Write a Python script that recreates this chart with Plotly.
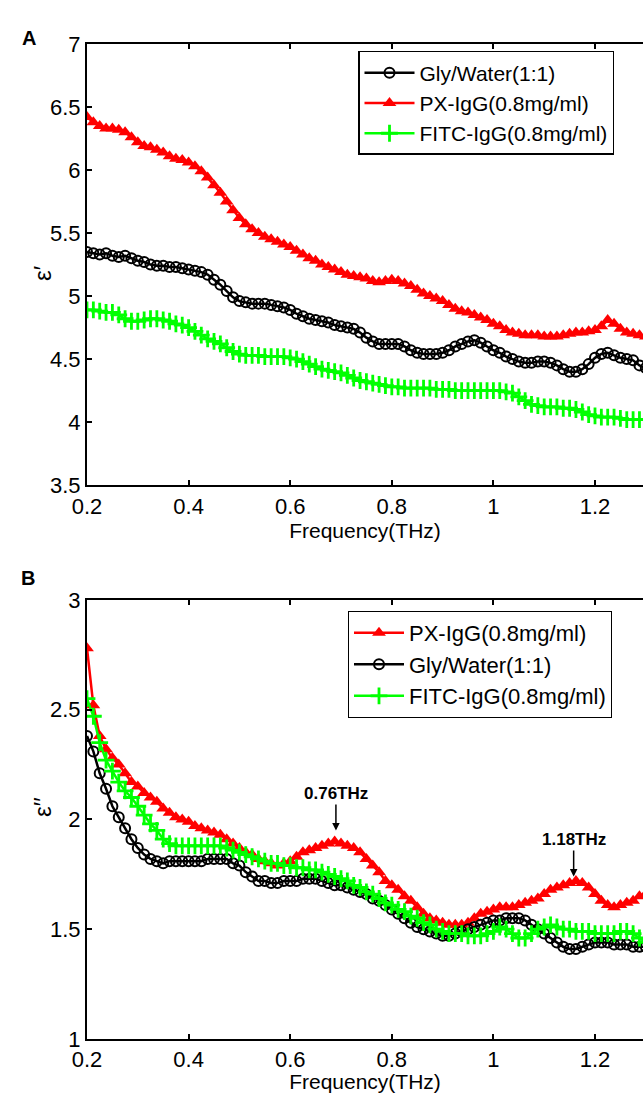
import plotly.graph_objects as go

freq = [0.2, 0.2125, 0.225, 0.2375, 0.25, 0.2625, 0.275, 0.2875,
        0.3, 0.3125, 0.325, 0.3375, 0.35, 0.3625, 0.375, 0.3875,
        0.4, 0.4125, 0.425, 0.4375, 0.45, 0.4625, 0.475, 0.4875,
        0.5, 0.5125, 0.525, 0.5375, 0.55, 0.5625, 0.575, 0.5875,
        0.6, 0.6125, 0.625, 0.6375, 0.65, 0.6625, 0.675, 0.6875,
        0.7, 0.7125, 0.725, 0.7375, 0.75, 0.7625, 0.775, 0.7875,
        0.8, 0.8125, 0.825, 0.8375, 0.85, 0.8625, 0.875, 0.8875,
        0.9, 0.9125, 0.925, 0.9375, 0.95, 0.9625, 0.975, 0.9875,
        1.0, 1.0125, 1.025, 1.0375, 1.05, 1.0625, 1.075, 1.0875,
        1.1, 1.1125, 1.125, 1.1375, 1.15, 1.1625, 1.175, 1.1875,
        1.2, 1.2125, 1.225, 1.2375, 1.25, 1.2625, 1.275, 1.2875,
        1.3]

# Panel A: real part eps'
gly_real = [5.35, 5.34, 5.33, 5.34, 5.32, 5.31, 5.32, 5.30,
            5.28, 5.27, 5.25, 5.24, 5.24, 5.23, 5.23, 5.22,
            5.21, 5.20, 5.19, 5.17, 5.13, 5.09, 5.04, 4.99,
            4.96, 4.95, 4.94, 4.94, 4.94, 4.93, 4.92, 4.91,
            4.89, 4.86, 4.84, 4.82, 4.81, 4.80, 4.79, 4.77,
            4.76, 4.75, 4.74, 4.71, 4.67, 4.64, 4.62, 4.62,
            4.62, 4.62, 4.60, 4.57, 4.55, 4.54, 4.54, 4.54,
            4.55, 4.57, 4.60, 4.62, 4.64, 4.65, 4.63, 4.60,
            4.57, 4.55, 4.52, 4.50, 4.48, 4.47, 4.47, 4.48,
            4.48, 4.47, 4.45, 4.42, 4.40, 4.40, 4.42, 4.46,
            4.51, 4.54, 4.55, 4.53, 4.51, 4.50, 4.49, 4.45,
            4.43]
px_real = [6.42, 6.38, 6.35, 6.33, 6.33, 6.32, 6.30, 6.26,
           6.22, 6.19, 6.18, 6.16, 6.14, 6.11, 6.09, 6.08,
           6.06, 6.03, 5.99, 5.94, 5.88, 5.82, 5.75, 5.68,
           5.62, 5.57, 5.53, 5.50, 5.47, 5.45, 5.43, 5.41,
           5.39, 5.36, 5.33, 5.30, 5.28, 5.25, 5.23, 5.21,
           5.19, 5.17, 5.16, 5.15, 5.14, 5.12, 5.11, 5.12,
           5.13, 5.12, 5.10, 5.08, 5.05, 5.02, 5.00, 4.98,
           4.96, 4.93, 4.90, 4.88, 4.87, 4.85, 4.83, 4.81,
           4.78, 4.76, 4.73, 4.71, 4.70, 4.69, 4.69, 4.69,
           4.68, 4.68, 4.68, 4.69, 4.70, 4.71, 4.71, 4.72,
           4.73, 4.76, 4.81, 4.78, 4.74, 4.71, 4.70, 4.69,
           4.68]
fitc_real = [4.89, 4.89, 4.88, 4.87, 4.87, 4.85, 4.82, 4.80,
             4.80, 4.81, 4.82, 4.82, 4.81, 4.80, 4.78, 4.77,
             4.75, 4.72, 4.69, 4.66, 4.64, 4.62, 4.59, 4.56,
             4.54, 4.53, 4.53, 4.53, 4.52, 4.52, 4.52, 4.52,
             4.51, 4.50, 4.48, 4.46, 4.44, 4.42, 4.41, 4.40,
             4.39, 4.37, 4.35, 4.33, 4.32, 4.31, 4.30, 4.29,
             4.28, 4.28, 4.27, 4.27, 4.27, 4.27, 4.27, 4.26,
             4.26, 4.26, 4.25, 4.25, 4.25, 4.25, 4.25, 4.25,
             4.25, 4.25, 4.24, 4.23, 4.20, 4.17, 4.14, 4.13,
             4.12, 4.12, 4.12, 4.11, 4.11, 4.10, 4.08, 4.06,
             4.05, 4.04, 4.04, 4.04, 4.03, 4.02, 4.02, 4.02,
             4.02]

# Panel B: imaginary part eps''
px_imag = [2.78, 2.52, 2.38, 2.32, 2.28, 2.25, 2.21, 2.17,
           2.15, 2.12, 2.10, 2.08, 2.05, 2.03, 2.01, 2.00,
           1.99, 1.97, 1.96, 1.95, 1.94, 1.93, 1.91, 1.89,
           1.87, 1.85, 1.84, 1.82, 1.81, 1.80, 1.79, 1.80,
           1.81, 1.83, 1.85, 1.86, 1.87, 1.88, 1.89, 1.90,
           1.89, 1.88, 1.87, 1.85, 1.82, 1.79, 1.76, 1.72,
           1.70, 1.68, 1.65, 1.63, 1.60, 1.57, 1.55, 1.54,
           1.53, 1.52, 1.52, 1.52, 1.53, 1.55, 1.57, 1.58,
           1.59, 1.60, 1.60, 1.60, 1.61, 1.62, 1.63, 1.64,
           1.66, 1.68, 1.69, 1.70, 1.71, 1.72, 1.71, 1.69,
           1.66, 1.63, 1.61, 1.60, 1.61, 1.62, 1.63, 1.65,
           1.66]
gly_imag = [2.38, 2.31, 2.21, 2.14, 2.06, 2.01, 1.96, 1.91,
            1.87, 1.84, 1.82, 1.81, 1.80, 1.81, 1.81, 1.81,
            1.81, 1.81, 1.81, 1.82, 1.82, 1.82, 1.82, 1.80,
            1.79, 1.76, 1.74, 1.72, 1.72, 1.71, 1.71, 1.72,
            1.72, 1.72, 1.73, 1.73, 1.73, 1.72, 1.71, 1.70,
            1.70, 1.69, 1.68, 1.67, 1.66, 1.64, 1.63, 1.61,
            1.59, 1.57, 1.55, 1.53, 1.51, 1.50, 1.49, 1.48,
            1.47, 1.47, 1.48, 1.49, 1.50, 1.51, 1.52, 1.53,
            1.54, 1.54, 1.55, 1.55, 1.55, 1.54, 1.52, 1.50,
            1.48, 1.46, 1.44, 1.42, 1.41, 1.41, 1.42, 1.43,
            1.44, 1.44, 1.44, 1.43, 1.43, 1.43, 1.42, 1.42,
            1.42]
fitc_imag = [2.55, 2.47, 2.35, 2.27, 2.22, 2.17, 2.13, 2.10,
             2.06, 2.02, 1.98, 1.95, 1.91, 1.89, 1.88, 1.88,
             1.88, 1.88, 1.88, 1.88, 1.88, 1.88, 1.87, 1.86,
             1.85, 1.84, 1.83, 1.82, 1.81, 1.80, 1.80, 1.79,
             1.79, 1.78, 1.78, 1.77, 1.77, 1.76, 1.75, 1.74,
             1.73, 1.72, 1.70, 1.69, 1.67, 1.66, 1.64, 1.62,
             1.61, 1.59, 1.58, 1.56, 1.55, 1.53, 1.52, 1.50,
             1.49, 1.48, 1.48, 1.48, 1.47, 1.47, 1.47, 1.48,
             1.49, 1.51, 1.50, 1.48, 1.46, 1.46, 1.48, 1.50,
             1.51, 1.52, 1.51, 1.50, 1.50, 1.49, 1.49, 1.49,
             1.48, 1.48, 1.48, 1.48, 1.49, 1.49, 1.48, 1.46,
             1.44]

names = {"gly": "Gly/Water(1:1)", "px": "PX-IgG(0.8mg/ml)", "fitc": "FITC-IgG(0.8mg/ml)"}
peak_labels = ["0.76THz", "1.18THz"]
peak_x = [0.69, 1.158]
peak_y = [1.95, 1.74]

FONT = "Liberation Sans, Arial, Helvetica, sans-serif"

styles = {
    "gly": dict(line=dict(color="black", width=2.5),
                marker=dict(symbol="circle-open", size=10, color="black",
                            line=dict(color="black", width=2))),
    "px": dict(line=dict(color="#ff0000", width=2.5),
               marker=dict(symbol="triangle-up", size=12, color="#ff0000",
                           line=dict(color="#ff0000", width=0))),
    "fitc": dict(line=dict(color="#00ff00", width=2.5),
                 marker=dict(symbol="cross-thin-open", size=12, color="#00ff00",
                             line=dict(color="#00ff00", width=2.8))),
}

fig = go.Figure()

panelA = [("gly", gly_real), ("px", px_real), ("fitc", fitc_real)]
for key, vals in panelA:
    fig.add_trace(go.Scatter(x=freq, y=vals, mode="lines+markers", name=names[key],
                             xaxis="x", yaxis="y", legend="legend",
                             **styles[key]))

panelB = [("px", px_imag), ("gly", gly_imag), ("fitc", fitc_imag)]
for key, vals in panelB:
    fig.add_trace(go.Scatter(x=freq, y=vals, mode="lines+markers", name=names[key],
                             xaxis="x2", yaxis="y2", legend="legend2",
                             **styles[key]))

W, H = 643, 1093
L, R, T, B = 87, 0, 44, 52
ph = H - T - B
domA = [(1041 - 486) / ph, 1.0]
domB = [0.0, (1041 - 601) / ph]
xr = [0.2, 0.2 + (W - L - R) / 508.0]

axis_common = dict(showline=True, linecolor="black", linewidth=2, mirror="ticks",
                   ticks="inside", ticklen=5, tickwidth=1.5, tickcolor="black",
                   showgrid=False, zeroline=False,
                   tickfont=dict(family=FONT, size=22, color="black"))

xaxis_kw = dict(axis_common, range=xr, tickmode="array",
                tickvals=[0.2, 0.4, 0.6, 0.8, 1.0, 1.2],
                ticktext=["0.2", "0.4", "0.6", "0.8", "1", "1.2"])
yaxis_kw = dict(axis_common, mirror=False)

fig.update_layout(
    width=W, height=H,
    margin=dict(l=L, r=R, t=T, b=B, pad=0),
    paper_bgcolor="white", plot_bgcolor="white",
    font=dict(family=FONT, color="black"),
    xaxis=dict(xaxis_kw, domain=[0, 1], anchor="y",
               title=dict(text="Frequency(THz)", font=dict(family=FONT, size=21), standoff=6)),
    yaxis=dict(yaxis_kw, domain=domA, anchor="x", range=[3.5, 7], dtick=0.5, tick0=3.5),
    xaxis2=dict(xaxis_kw, domain=[0, 1], anchor="y2",
                title=dict(text="Frequency(THz)", font=dict(family=FONT, size=21), standoff=6)),
    yaxis2=dict(yaxis_kw, domain=domB, anchor="x2", range=[1, 3], dtick=0.5, tick0=1),
    yaxis3=dict(overlaying="y", side="right", matches="y", range=[3.5, 7], dtick=0.5, tick0=3.5,
                ticks="inside", ticklen=5, tickwidth=1.5, tickcolor="black",
                showticklabels=False, showline=False, showgrid=False, zeroline=False),
    yaxis4=dict(overlaying="y2", side="right", matches="y2", range=[1, 3], dtick=0.5, tick0=1,
                ticks="inside", ticklen=5, tickwidth=1.5, tickcolor="black",
                showticklabels=False, showline=False, showgrid=False, zeroline=False),
    legend=dict(x=(358 - L) / (W - L), y=(1041 - 51) / ph, xanchor="left", yanchor="top",
                bgcolor="white", bordercolor="black", borderwidth=1.5,
                font=dict(family=FONT, size=21, color="black"), itemwidth=50,
                tracegroupgap=0),
    legend2=dict(x=(348 - L) / (W - L), y=(1041 - 612) / ph, xanchor="left", yanchor="top",
                 bgcolor="white", bordercolor="black", borderwidth=1,
                 font=dict(family=FONT, size=22, color="black"), itemwidth=50,
                 tracegroupgap=0),
    showlegend=True,
)

annotations = [
    dict(text="<b>A</b>", x=(20 - L) / (W - L), y=(1041 - 25) / ph, xref="paper", yref="paper",
         showarrow=False, font=dict(family=FONT, size=20, color="black")),
    dict(text="<b>B</b>", x=(19 - L) / (W - L), y=(1041 - 579) / ph, xref="paper", yref="paper",
         showarrow=False, font=dict(family=FONT, size=20, color="black")),
    dict(text="ε′", x=(27 - L) / (W - L), y=(1041 - 264) / ph, xref="paper", yref="paper",
         showarrow=False, textangle=-90, font=dict(family=FONT, size=24, color="black")),
    dict(text="ε′′", x=(27 - L) / (W - L), y=(1041 - 821) / ph, xref="paper", yref="paper",
         showarrow=False, textangle=-90, font=dict(family=FONT, size=24, color="black")),
]
for lab, px_, py_ in zip(peak_labels, peak_x, peak_y):
    annotations.append(dict(text="<b>%s</b>" % lab, x=px_, y=py_, xref="x2", yref="y2",
                            showarrow=True, arrowhead=2, arrowsize=1, arrowwidth=1.5,
                            arrowcolor="black", ax=0, ay=-37, standoff=0,
                            font=dict(family=FONT, size=17, color="black")))
fig.update_layout(annotations=annotations)

fig.write_html("out.html")
